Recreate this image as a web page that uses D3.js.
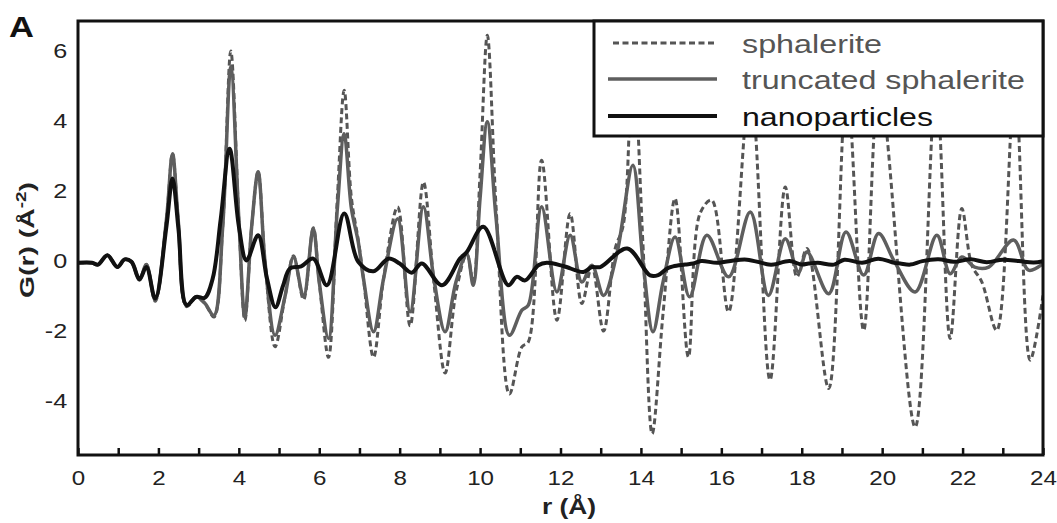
<!DOCTYPE html>
<html>
<head>
<meta charset="utf-8">
<script src="https://cdn.jsdelivr.net/npm/d3@7"></script>
<style>
  body { margin: 0; background: #fff; }
  text { font-family: "Liberation Sans", Arial, Helvetica, sans-serif; }
</style>
</head>
<body>
<div id="viz"></div>
<script>
// sphalerite (dashed)
var sphR = [0, 0.35, 0.5, 0.73, 0.98, 1.16, 1.33, 1.53, 1.70, 1.92, 2.2, 2.35, 2.49, 2.70, 2.94, 3.15, 3.38, 3.6, 3.8, 4.0, 4.15, 4.32, 4.48, 4.65, 4.9, 5.15, 5.36, 5.61, 5.85, 6.0, 6.23, 6.45, 6.62, 6.8, 6.97, 7.1, 7.35, 7.6, 7.95, 8.26, 8.59, 8.85, 9.13, 9.4, 9.67, 9.83, 10.0, 10.18, 10.4, 10.73, 11.04, 11.2, 11.53, 11.91, 12.24, 12.53, 12.78, 13.07, 13.36, 13.56, 13.8, 14.05, 14.28, 14.55, 14.85, 15.18, 15.47, 15.76, 16.18, 16.72, 17.21, 17.59, 17.88, 18.13, 18.67, 19.12, 19.54, 19.93, 20.82, 21.34, 21.69, 21.98, 22.23, 22.48, 22.85, 23.30, 23.68, 24];
var sphG = [-0.05, -0.05, -0.10, 0.17, -0.17, 0.05, -0.02, -0.55, -0.10, -1.15, 1.2, 3.07, 1.2, -1.3, -1.05, -1.2, -1.6, 1.0, 6.0, 1.2, -1.7, 1.0, 2.55, 0.0, -2.45, -1.0, 0.15, -1.1, 0.95, -0.6, -2.75, 1.8, 4.88, 1.8, 0.6, -0.5, -2.75, -0.5, 1.55, -1.85, 2.26, -0.6, -3.2, -0.9, 0.2, -0.6, 2.5, 6.45, 1.5, -3.8, -2.45, -2.31, 2.88, -1.69, 1.36, -1.21, -0.15, -2.0, 0.36, 1.02, 5.8, 0.5, -4.93, -1.5, 1.79, -2.74, 1.36, 1.74, -1.45, 5.0, -3.4, 2.12, -0.45, 0.36, -3.64, 5.0, -1.98, 5.0, -4.74, 5.0, -2.21, 1.5, -0.12, -0.6, -1.98, 5.0, -2.83, -0.98];

// truncated sphalerite (solid grey)
var truR = [0, 0.35, 0.5, 0.73, 0.98, 1.16, 1.33, 1.53, 1.70, 1.92, 2.2, 2.35, 2.49, 2.70, 2.94, 3.15, 3.38, 3.6, 3.8, 4.0, 4.15, 4.32, 4.48, 4.65, 4.9, 5.15, 5.36, 5.61, 5.85, 6.0, 6.23, 6.45, 6.62, 6.8, 6.97, 7.1, 7.35, 7.6, 7.95, 8.26, 8.59, 8.85, 9.13, 9.4, 9.67, 9.83, 10.0, 10.18, 10.4, 10.73, 11.04, 11.2, 11.53, 11.91, 12.24, 12.53, 12.78, 13.07, 13.4, 13.8, 14.05, 14.30, 14.55, 14.85, 15.21, 15.64, 16.18, 16.72, 17.17, 17.59, 17.92, 18.13, 18.67, 19.10, 19.54, 19.91, 20.3, 20.82, 21.36, 21.69, 21.98, 22.3, 22.65, 23.27, 23.64, 24];
var truG = [-0.05, -0.05, -0.10, 0.17, -0.17, 0.05, -0.02, -0.52, -0.10, -1.12, 1.2, 3.07, 1.2, -1.26, -1.02, -1.2, -1.55, 1.0, 5.55, 1.2, -1.6, 1.0, 2.55, 0.0, -2.12, -1.0, 0.12, -1.02, 0.93, -0.6, -2.21, 1.5, 3.64, 1.5, 0.55, -0.5, -2.02, -0.5, 1.21, -1.45, 1.55, -0.5, -2.02, -0.6, 0.2, -0.69, 1.8, 3.98, 1.2, -2.12, -1.40, -1.26, 1.55, -0.88, 0.74, -0.60, -0.12, -0.98, 0.2, 2.74, 0.0, -2.02, -0.6, 0.69, -1.02, 0.74, -0.45, 1.40, -0.98, 0.64, -0.31, 0.26, -0.93, 0.83, -0.40, 0.79, 0.0, -0.88, 0.74, -0.36, 0.12, -0.17, -0.17, 0.60, -0.26, -0.07];

// nanoparticles (solid black)
var nanR = [0, 0.35, 0.5, 0.73, 0.98, 1.16, 1.33, 1.53, 1.70, 1.92, 2.2, 2.35, 2.5, 2.70, 2.94, 3.15, 3.35, 3.55, 3.77, 4.0, 4.19, 4.48, 4.7, 4.91, 5.1, 5.27, 5.55, 5.85, 6.19, 6.62, 6.97, 7.35, 7.72, 8.0, 8.30, 8.55, 9.05, 9.5, 9.67, 10.08, 10.70, 10.91, 11.12, 11.45, 11.66, 12.07, 12.57, 12.78, 12.99, 13.66, 14.23, 14.43, 14.65, 14.8, 15.1, 15.3, 15.5, 15.9, 16.3, 16.64, 17.0, 17.18, 17.3, 17.7, 18.0, 18.17, 18.4, 18.8, 19.06, 19.5, 19.9, 20.3, 20.45, 20.7, 21.0, 21.4, 21.78, 22.2, 22.6, 23.0, 23.4, 23.77, 24];
var nanG = [-0.05, -0.05, -0.10, 0.17, -0.17, 0.05, -0.02, -0.52, -0.17, -1.07, 1.0, 2.36, 0.9, -1.26, -1.02, -1.05, -0.5, 1.2, 3.21, 1.0, 0.02, 0.74, -0.5, -1.32, -0.7, -0.21, -0.15, 0.07, -0.69, 1.36, -0.02, -0.29, 0.07, -0.07, -0.33, -0.07, -0.69, 0.07, 0.26, 0.98, -0.69, -0.45, -0.55, -0.12, -0.05, -0.14, -0.31, -0.17, -0.17, 0.36, -0.41, -0.40, -0.21, -0.15, -0.1, -0.07, 0.0, -0.05, 0.02, 0.04, -0.05, -0.1, -0.1, 0.0, -0.1, -0.07, -0.05, -0.1, 0.04, -0.05, 0.07, -0.05, -0.07, -0.1, 0.0, 0.05, -0.02, 0.05, -0.03, 0.04, 0.0, -0.04, 0.0];

var xTicks = d3.range(0, 25);
var yTicks = [-4, -2, 0, 2, 4, 6];

var W = 1057, H = 523;
var pL = 78, pR = 1043, pT = 21, pB = 455;

var svg = d3.select('#viz').append('svg')
  .attr('width', W)
  .attr('height', H);

var x = d3.scaleLinear().domain([0, 24]).range([pL, pR]);
var y = d3.scaleLinear().domain([-5.54, 6.86]).range([pB, pT]);

var line = d3.line()
  .x(d => x(d[0]))
  .y(d => y(d[1]))
  .curve(d3.curveCatmullRom.alpha(0.5));

var series = [
  {name: 'sphalerite', r: sphR, g: sphG, color: '#555', width: 3, dash: '6,3.5', text: '#555', len: 140},
  {name: 'truncated sphalerite', r: truR, g: truG, color: '#5e5e5e', width: 3.5, dash: null, text: '#555', len: 283},
  {name: 'nanoparticles', r: nanR, g: nanG, color: '#111', width: 4, dash: null, text: '#111', len: 191}
];

svg.append('clipPath').attr('id', 'clip')
  .append('rect')
  .attr('x', pL).attr('y', pT)
  .attr('width', pR - pL).attr('height', pB - pT);

var plot = svg.append('g').attr('clip-path', 'url(#clip)');

series.forEach(function(s) {
  plot.append('path')
    .datum(s.r.map((v, i) => [v, s.g[i]]))
    .attr('fill', 'none')
    .attr('stroke', s.color)
    .attr('stroke-width', s.width)
    .attr('stroke-dasharray', s.dash)
    .attr('stroke-linejoin', 'round')
    .attr('d', line);
});

// x axis: inward ticks, labels every 2
var xAxis = d3.axisBottom(x)
  .tickValues(xTicks)
  .tickSize(-7)
  .tickPadding(15)
  .tickFormat(d => d % 2 === 0 ? d : '');

var gx = svg.append('g')
  .attr('transform', 'translate(0,' + pB + ')')
  .call(xAxis);
gx.select('.domain').remove();
gx.selectAll('line').attr('stroke', '#111').attr('stroke-width', 2.5);
gx.selectAll('text')
  .attr('font-size', 21)
  .attr('fill', '#222')
  .attr('transform', 'scale(1.15,1)');

var yAxis = d3.axisLeft(y)
  .tickValues(yTicks)
  .tickSize(0)
  .tickPadding(9)
  .tickFormat(d => String(d));

var gy = svg.append('g')
  .attr('transform', 'translate(' + pL + ',0)')
  .call(yAxis);
gy.select('.domain').remove();
gy.selectAll('text')
  .attr('font-size', 21)
  .attr('fill', '#222')
  .attr('transform', 'scale(1.2,1)');

// frame
svg.append('rect')
  .attr('x', pL).attr('y', pT)
  .attr('width', pR - pL).attr('height', pB - pT)
  .attr('fill', 'none')
  .attr('stroke', '#111')
  .attr('stroke-width', 3);

// legend
var lg = svg.append('g');
lg.append('rect')
  .attr('x', 594).attr('y', pT)
  .attr('width', pR - 594).attr('height', 115)
  .attr('fill', '#fff')
  .attr('stroke', '#111')
  .attr('stroke-width', 3);

var rows = [43, 79, 116];
series.forEach(function(s, i) {
  lg.append('line')
    .attr('x1', s.dash ? 613 : 608).attr('x2', 717)
    .attr('y1', rows[i]).attr('y2', rows[i])
    .attr('stroke', s.color)
    .attr('stroke-width', s.width)
    .attr('stroke-dasharray', s.dash);
  lg.append('text')
    .attr('x', 742).attr('y', rows[i] + 10)
    .attr('font-size', 25)
    .attr('fill', s.text)
    .attr('textLength', s.len)
    .attr('lengthAdjust', 'spacingAndGlyphs')
    .text(s.name);
});

// axis titles
svg.append('text')
  .attr('transform', 'translate(569,514) scale(1.2,1)')
  .attr('text-anchor', 'middle')
  .attr('font-size', 22)
  .attr('font-weight', 'bold')
  .attr('fill', '#222')
  .text('r (Å)');

var yl = svg.append('text')
  .attr('transform', 'translate(34,240) rotate(-90) scale(1.35,1)')
  .attr('text-anchor', 'middle')
  .attr('font-size', 21)
  .attr('font-weight', 'bold')
  .attr('fill', '#222');
yl.append('tspan').text('G(r) (Å');
yl.append('tspan').attr('font-size', 14).attr('dy', -8).text('-2');
yl.append('tspan').attr('dy', 8).text(')');

svg.append('text')
  .attr('transform', 'translate(9,37) scale(1.15,1)')
  .attr('font-size', 30)
  .attr('font-weight', 'bold')
  .attr('fill', '#111')
  .text('A');
</script>
</body>
</html>
